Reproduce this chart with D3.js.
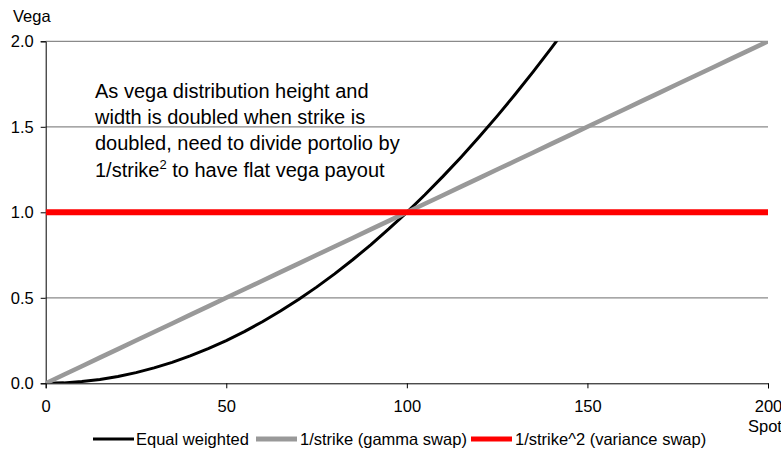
<!DOCTYPE html>
<html><head><meta charset="utf-8">
<script src="https://cdn.jsdelivr.net/npm/d3@7"></script>
<style>
html,body{margin:0;padding:0;background:#fff;overflow:hidden}
text{font-family:"Liberation Sans",Arial,Helvetica,sans-serif;fill:#000}
</style></head>
<body>
<svg id="chart" width="781" height="454"></svg>
<script>
// ---- data ----
const spot = [0,5,10,15,20,25,30,35,40,45,50,55,60,65,70,75,80,85,90,95,100,105,110,115,120,125,130,135,140,145,150,155,160,165,170,175,180,185,190,195,200];
const equalWeighted = [0,0.0025,0.01,0.0225,0.04,0.0625,0.09,0.1225,0.16,0.2025,0.25,0.3025,0.36,0.4225,0.49,0.5625,0.64,0.7225,0.81,0.9025,1.0,1.1025,1.21,1.3225,1.44,1.5625,1.69,1.8225,1.96,2.1025,2.25,2.4025,2.56,2.7225,2.89,3.0625,3.24,3.4225,3.61,3.8025,4.0];
const gammaSwap = [0,0.05,0.1,0.15,0.2,0.25,0.3,0.35,0.4,0.45,0.5,0.55,0.6,0.65,0.7,0.75,0.8,0.85,0.9,0.95,1.0,1.05,1.1,1.15,1.2,1.25,1.3,1.35,1.4,1.45,1.5,1.55,1.6,1.65,1.7,1.75,1.8,1.85,1.9,1.95,2.0];
const varianceSwap = [1,1,1,1,1,1,1,1,1,1,1,1,1,1,1,1,1,1,1,1,1,1,1,1,1,1,1,1,1,1,1,1,1,1,1,1,1,1,1,1,1];
const seriesNames = ["Equal weighted","1/strike (gamma swap)","1/strike^2 (variance swap)"];
const xTicks = [0,50,100,150,200];
const yTicks = [0,0.5,1.0,1.5,2.0];
const yTickLabels = ["0.0","0.5","1.0","1.5","2.0"];
const noteLines = ["As vega distribution height and","width is doubled when strike is","doubled, need to divide portolio by"];

// ---- drawing ----
const svg = d3.select("#chart");
const x = d3.scaleLinear().domain([0,200]).range([45.7,768]);
const y = d3.scaleLinear().domain([0,2]).range([383.3,41.3]);
const FS = 16.5;

const styles = [
  {color:"#000000", width:3},
  {color:"#999999", width:4.5},
  {color:"#ff0000", width:6}
];
const seriesData = [equalWeighted, gammaSwap, varianceSwap];

svg.append("clipPath").attr("id","plotclip").append("rect")
  .attr("x",x(0)).attr("y",y(2)).attr("width",x(200)-x(0)).attr("height",y(0)-y(2));

// gridlines
svg.append("g").selectAll("line").data(yTicks.filter(d=>d>0)).join("line")
  .attr("x1",x(0)).attr("x2",x(200))
  .attr("y1",d=>y(d)).attr("y2",d=>y(d))
  .attr("stroke","#8a8a8a").attr("stroke-width",1.2);

// y axis
const yAxis = d3.axisLeft(y).tickValues(yTicks).tickSize(5).tickPadding(7)
  .tickFormat((d,i)=>yTickLabels[i]);
const gy = svg.append("g").attr("transform",`translate(${x(0)},0)`).call(yAxis);
gy.select(".domain").attr("stroke","#000");
gy.selectAll(".tick line").attr("stroke","#000");
gy.selectAll(".tick text").attr("font-size",FS).attr("font-family","Liberation Sans, Arial, sans-serif").attr("fill","#000");

// x axis
const xAxis = d3.axisBottom(x).tickValues(xTicks).tickSize(5).tickPadding(12).tickFormat(d3.format("d"));
const gx = svg.append("g").attr("transform",`translate(0,${y(0)})`).call(xAxis);
gx.select(".domain").attr("stroke","#000");
gx.selectAll(".tick line").attr("stroke","#000");
gx.selectAll(".tick text").attr("font-size",FS).attr("font-family","Liberation Sans, Arial, sans-serif").attr("fill","#000");

// axis titles
svg.append("text").attr("x",13).attr("y",22).attr("font-size",FS).text("Vega");
svg.append("text").attr("x",748).attr("y",432).attr("font-size",FS).text("Spot");

// series
const line = d3.line().x((d,i)=>x(spot[i])).y(d=>y(d));
const gl = svg.append("g").attr("clip-path","url(#plotclip)");
seriesData.forEach((vals,k)=>{
  gl.append("path").datum(vals).attr("d",line)
    .attr("fill","none").attr("stroke",styles[k].color)
    .attr("stroke-width",styles[k].width).attr("stroke-linejoin","round");
});

// annotation
noteLines.forEach((t,i)=>{
  svg.append("text").attr("x",95).attr("y",98+i*26.2).attr("font-size",20).text(t);
});
const last = svg.append("text").attr("x",95).attr("y",176.6).attr("font-size",20);
last.append("tspan").text("1/strike");
last.append("tspan").attr("dy",-8).attr("font-size",13).text("2");
last.append("tspan").attr("dy",8).text(" to have flat vega payout");

// legend
const legendItems = [
  {x0:93, tx:136},
  {x0:256, tx:300},
  {x0:471, tx:515}
];
legendItems.forEach((p,k)=>{
  svg.append("line").attr("x1",p.x0).attr("x2",p.x0+41).attr("y1",439).attr("y2",439)
    .attr("stroke",styles[k].color).attr("stroke-width",styles[k].width>4?5:styles[k].width);
  svg.append("text").attr("x",p.tx).attr("y",445).attr("font-size",FS).text(seriesNames[k]);
});
</script>
</body></html>
